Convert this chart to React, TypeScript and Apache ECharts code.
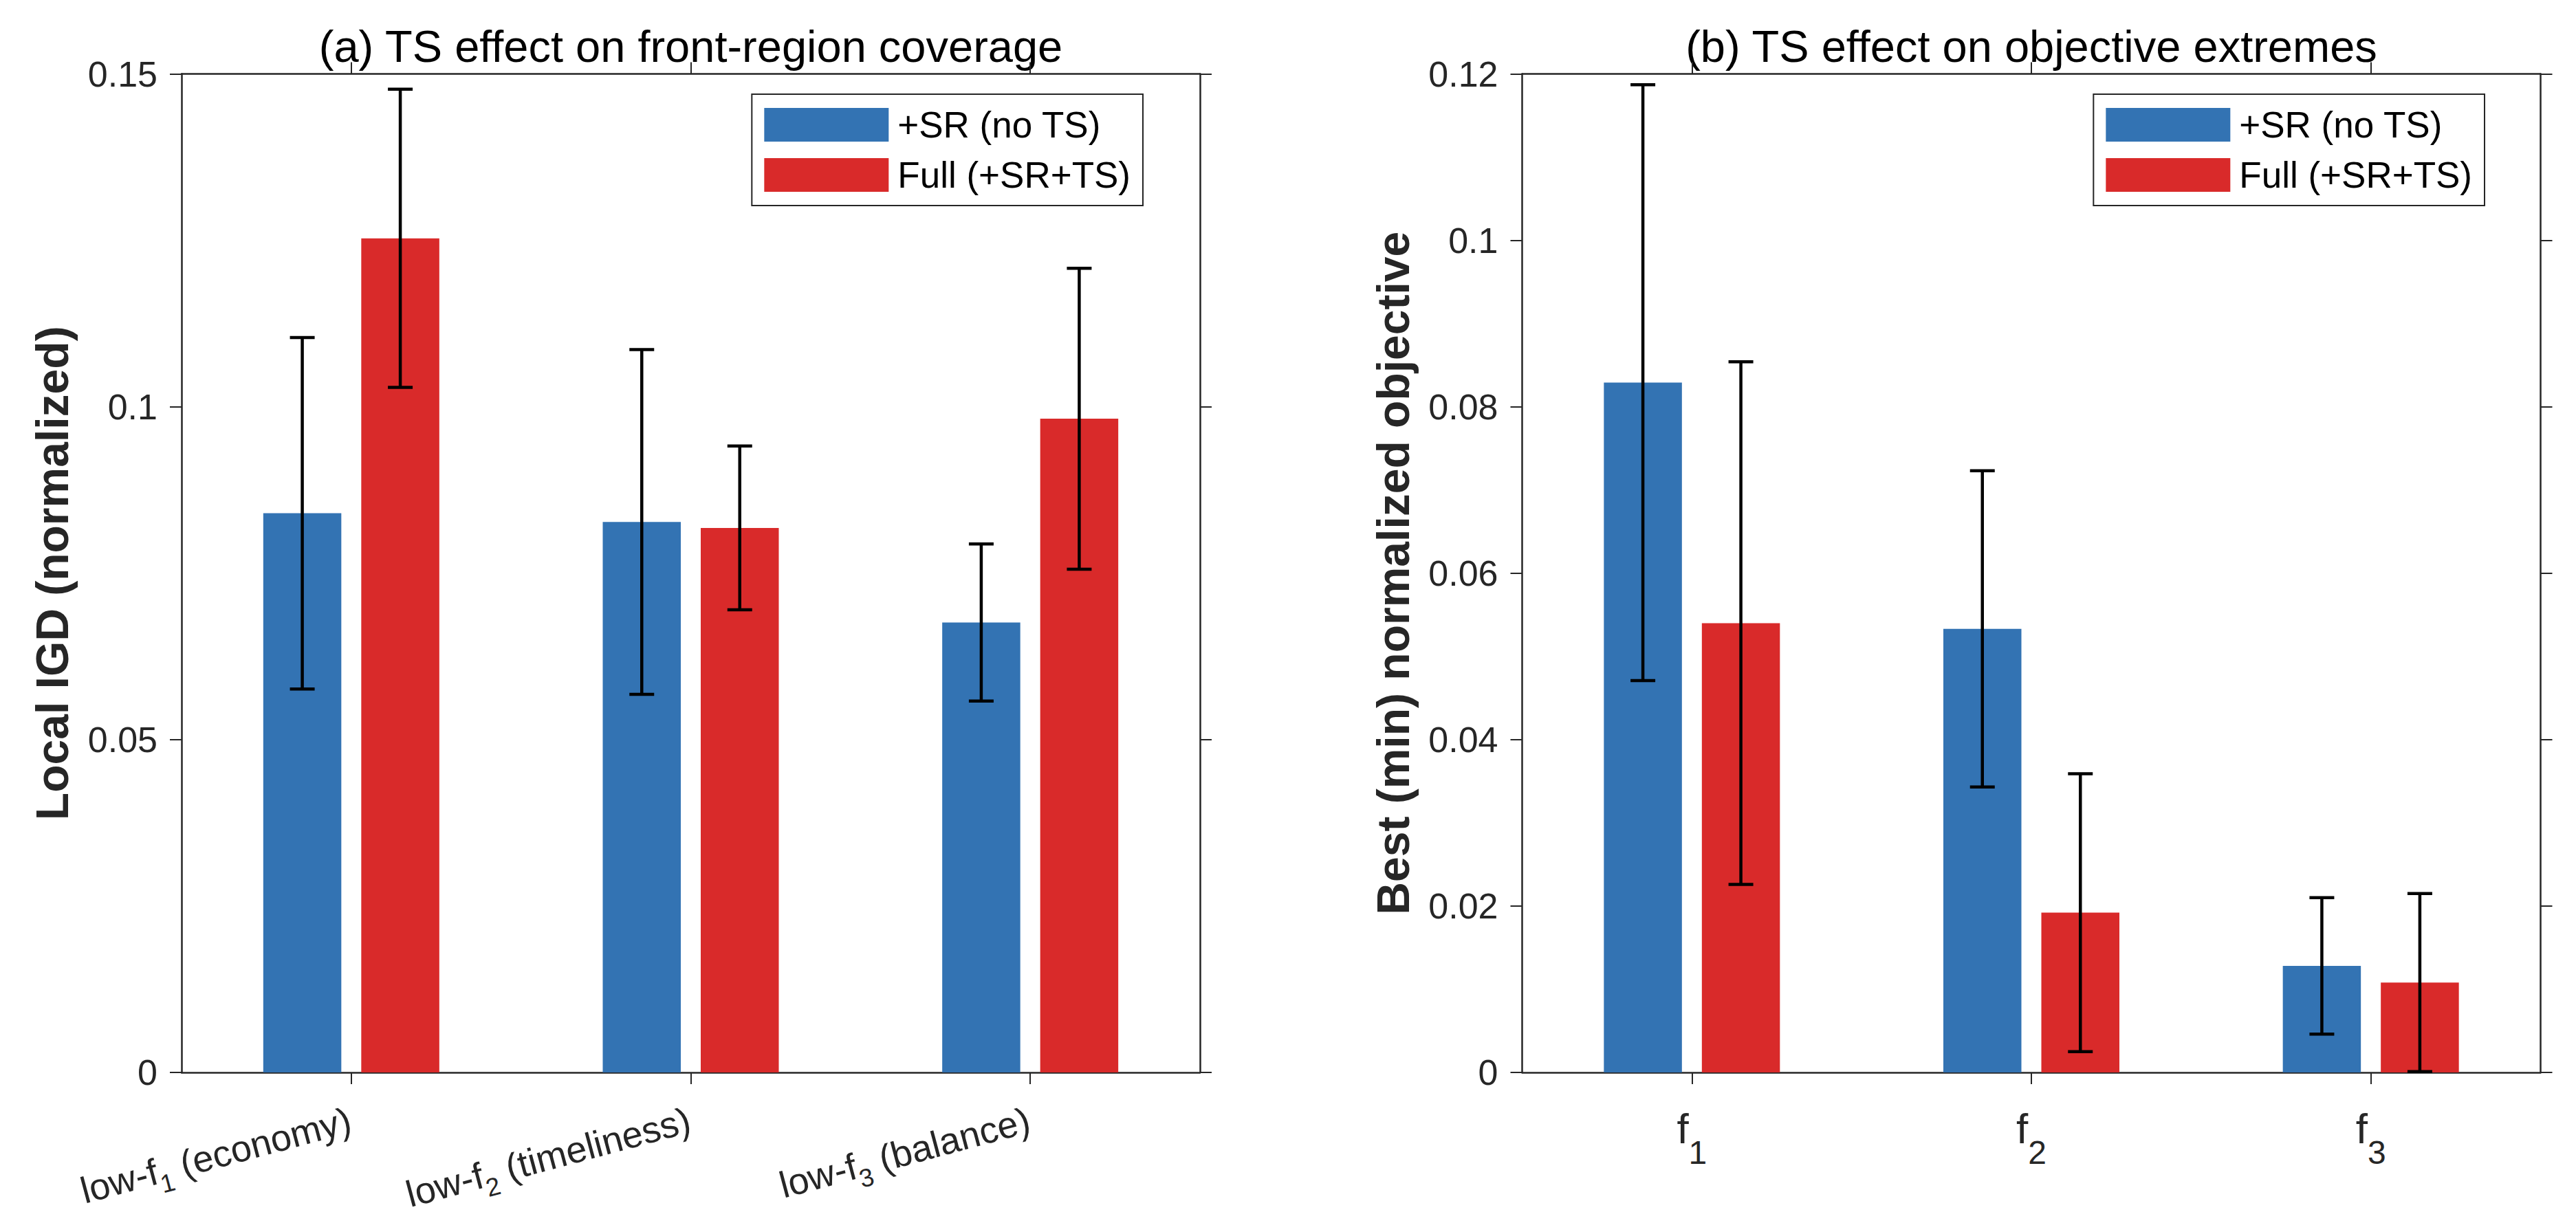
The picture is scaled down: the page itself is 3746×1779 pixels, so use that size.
import React, { useEffect, useRef } from "react";
import * as echarts from "echarts";

// ---------- data ----------
const seriesNames = ["+SR (no TS)", "Full (+SR+TS)"];
const categoriesA = ["low-f1 (economy)", "low-f2 (timeliness)", "low-f3 (balance)"];
const categoriesB = ["f1", "f2", "f3"];

// panel (a): local IGD, mean and std
const igdNoTS = [0.084, 0.0827, 0.0676];
const igdNoTSStd = [0.0264, 0.0259, 0.0118];
const igdFull = [0.1253, 0.0818, 0.0982];
const igdFullStd = [0.0224, 0.0123, 0.0226];

// panel (b): best normalized objective, mean and std
const bestNoTS = [0.0829, 0.0533, 0.0128];
const bestNoTSStd = [0.0358, 0.019, 0.0082];
const bestFull = [0.054, 0.0192, 0.0108];
const bestFullStd = [0.0314, 0.0167, 0.0107];

const yTicksA = [0, 0.05, 0.1, 0.15];
const yTicksB = [0, 0.02, 0.04, 0.06, 0.08, 0.1, 0.12];

const titleA = "(a) TS effect on front-region coverage";
const titleB = "(b) TS effect on objective extremes";
const yNameA = "Local IGD (normalized)";
const yNameB = "Best (min) normalized objective";

// ---------- style / layout ----------
const W = 3746;
const H = 1779;
const FONT = "'Liberation Sans', Arial, Helvetica, sans-serif";
const AX = "#262626";
const BLUE = "#3373b3";
const RED = "#d92a2a";
const gridTop = 107.5;
const gridH = 1452.5;
const gridW = 1481;
const leftA = 264;
const leftB = 2213.5;
const barW = 113.5;
const barGapPx = 29;
const capHalf = 18;
const errOffset = (barW + barGapPx) / 2;
const titleSize = 65;

function subFormatter(v: string) {
  const m = v.match(/^(.*?f)(\d)(.*)$/);
  if (!m) return "{m|" + v + "}";
  let s = "{m|" + m[1] + "}{s|" + m[2] + "}";
  if (m[3]) s += "{m|" + m[3] + "}";
  return s;
}

function errData(mean: number[], std: number[]) {
  return mean.map((v, i) => [i, v - std[i], v + std[i]]);
}

function makeErr(offset: number) {
  return (params: any, api: any) => {
    const i = api.value(0);
    const lo = api.value(1);
    const hi = api.value(2);
    const p1 = api.coord([i, lo]);
    const p2 = api.coord([i, hi]);
    const x = p1[0] + offset;
    const st = { stroke: "#000", lineWidth: 4.5, fill: "none" };
    return {
      type: "group",
      children: [
        { type: "line", shape: { x1: x, y1: p1[1], x2: x, y2: p2[1] }, style: st },
        { type: "line", shape: { x1: x - capHalf, y1: p1[1], x2: x + capHalf, y2: p1[1] }, style: st },
        { type: "line", shape: { x1: x - capHalf, y1: p2[1], x2: x + capHalf, y2: p2[1] }, style: st },
      ],
    };
  };
}

const tickStyle = { show: true, inside: false, length: 17, alignWithLabel: true, lineStyle: { color: AX, width: 2 } };
const lineStyle = { show: true, onZero: false, lineStyle: { color: AX, width: 2.5 } };

function catAxes(gridIndex: number, data: string[], label: any) {
  return [
    {
      type: "category",
      gridIndex,
      position: "bottom",
      data,
      axisLine: lineStyle,
      axisTick: tickStyle,
      axisLabel: label,
      splitLine: { show: false },
    },
    {
      type: "category",
      gridIndex,
      position: "top",
      data,
      axisLine: lineStyle,
      axisTick: tickStyle,
      axisLabel: { show: false },
      splitLine: { show: false },
    },
  ];
}

function valAxes(gridIndex: number, ticks: number[], name: string) {
  const min = ticks[0];
  const max = ticks[ticks.length - 1];
  const interval = ticks[1] - ticks[0];
  return [
    {
      type: "value",
      gridIndex,
      position: "left",
      min,
      max,
      interval,
      name,
      nameLocation: "middle",
      nameGap: 155,
      nameTextStyle: { fontSize: 66, fontWeight: "bold", color: AX, fontFamily: FONT },
      axisLine: lineStyle,
      axisTick: { show: true, inside: false, length: 17, lineStyle: { color: AX, width: 2 } },
      axisLabel: { fontSize: 52, color: AX, margin: 35, fontFamily: FONT },
      splitLine: { show: false },
    },
    {
      type: "value",
      gridIndex,
      position: "right",
      min,
      max,
      interval,
      axisLine: lineStyle,
      axisTick: { show: true, inside: false, length: 17, lineStyle: { color: AX, width: 2 } },
      axisLabel: { show: false },
      splitLine: { show: false },
    },
  ];
}

function legendAt(right: number) {
  return {
    data: seriesNames,
    orient: "vertical",
    right,
    top: 137,
    icon: "rect",
    itemWidth: 181,
    itemHeight: 49,
    itemGap: 20,
    padding: 18,
    borderColor: AX,
    borderWidth: 2,
    backgroundColor: "#fff",
    selectedMode: false,
    textStyle: { fontSize: 53, color: "#000", fontFamily: FONT, lineHeight: 49, padding: [0, 0, 0, 8] },
  };
}

export default function App() {
  const ref = useRef<HTMLDivElement>(null);
  useEffect(() => {
    if (!ref.current) return;
    const chart = echarts.init(ref.current, null, { renderer: "svg", width: W, height: H });

    const labelA = {
      interval: 0,
      rotate: 15,
      margin: 74,
      formatter: subFormatter,
      rich: {
        m: { fontSize: 54, lineHeight: 54, verticalAlign: "top", color: AX, fontFamily: FONT },
        s: { fontSize: 37, lineHeight: 67, padding: [30, 0, 0, 0], verticalAlign: "top", color: AX, fontFamily: FONT },
      },
    };
    const labelB = {
      interval: 0,
      margin: 50,
      formatter: subFormatter,
      rich: {
        m: { fontSize: 62, lineHeight: 62, verticalAlign: "top", color: AX, fontFamily: FONT },
        s: { fontSize: 48, lineHeight: 90, padding: [42, 0, 0, 0], verticalAlign: "top", color: AX, fontFamily: FONT },
      },
    };

    const barCommon = { type: "bar", barWidth: barW, barGap: (barGapPx / barW) * 100 + "%" };

    const option: any = {
      animation: false,
      backgroundColor: "#fff",
      textStyle: { fontFamily: FONT },
      grid: [
        { left: leftA, top: gridTop, width: gridW, height: gridH, containLabel: false },
        { left: leftB, top: gridTop, width: gridW, height: gridH, containLabel: false },
      ],
      xAxis: [...catAxes(0, categoriesA, labelA), ...catAxes(1, categoriesB, labelB)],
      yAxis: [...valAxes(0, yTicksA, yNameA), ...valAxes(1, yTicksB, yNameB)],
      legend: [legendAt(W - 1662), legendAt(W - 3613)],
      graphic: [
        {
          type: "text",
          x: leftA + gridW / 2,
          y: 90 - 0.3465 * titleSize,
          style: { text: titleA, fontSize: titleSize, fill: "#000", align: "center", verticalAlign: "middle", fontFamily: FONT },
        },
        {
          type: "text",
          x: leftB + gridW / 2,
          y: 90 - 0.3465 * titleSize,
          style: { text: titleB, fontSize: titleSize, fill: "#000", align: "center", verticalAlign: "middle", fontFamily: FONT },
        },
      ],
      series: [
        { ...barCommon, name: seriesNames[0], xAxisIndex: 0, yAxisIndex: 0, data: igdNoTS, itemStyle: { color: BLUE } },
        { ...barCommon, name: seriesNames[1], xAxisIndex: 0, yAxisIndex: 0, data: igdFull, itemStyle: { color: RED } },
        { ...barCommon, name: seriesNames[0], xAxisIndex: 2, yAxisIndex: 2, data: bestNoTS, itemStyle: { color: BLUE } },
        { ...barCommon, name: seriesNames[1], xAxisIndex: 2, yAxisIndex: 2, data: bestFull, itemStyle: { color: RED } },
        {
          type: "custom", name: "errA0", xAxisIndex: 0, yAxisIndex: 0, z: 10, silent: true, clip: false,
          renderItem: makeErr(-errOffset), encode: { x: 0, y: [1, 2] }, data: errData(igdNoTS, igdNoTSStd),
        },
        {
          type: "custom", name: "errA1", xAxisIndex: 0, yAxisIndex: 0, z: 10, silent: true, clip: false,
          renderItem: makeErr(errOffset), encode: { x: 0, y: [1, 2] }, data: errData(igdFull, igdFullStd),
        },
        {
          type: "custom", name: "errB0", xAxisIndex: 2, yAxisIndex: 2, z: 10, silent: true, clip: false,
          renderItem: makeErr(-errOffset), encode: { x: 0, y: [1, 2] }, data: errData(bestNoTS, bestNoTSStd),
        },
        {
          type: "custom", name: "errB1", xAxisIndex: 2, yAxisIndex: 2, z: 10, silent: true, clip: false,
          renderItem: makeErr(errOffset), encode: { x: 0, y: [1, 2] }, data: errData(bestFull, bestFullStd),
        },
      ],
    };
    chart.setOption(option);
    return () => chart.dispose();
  }, []);
  return (
    <div
      ref={ref}
      style={{ position: "fixed", left: 0, top: 0, width: W + "px", height: H + "px", background: "#fff" }}
    />
  );
}
